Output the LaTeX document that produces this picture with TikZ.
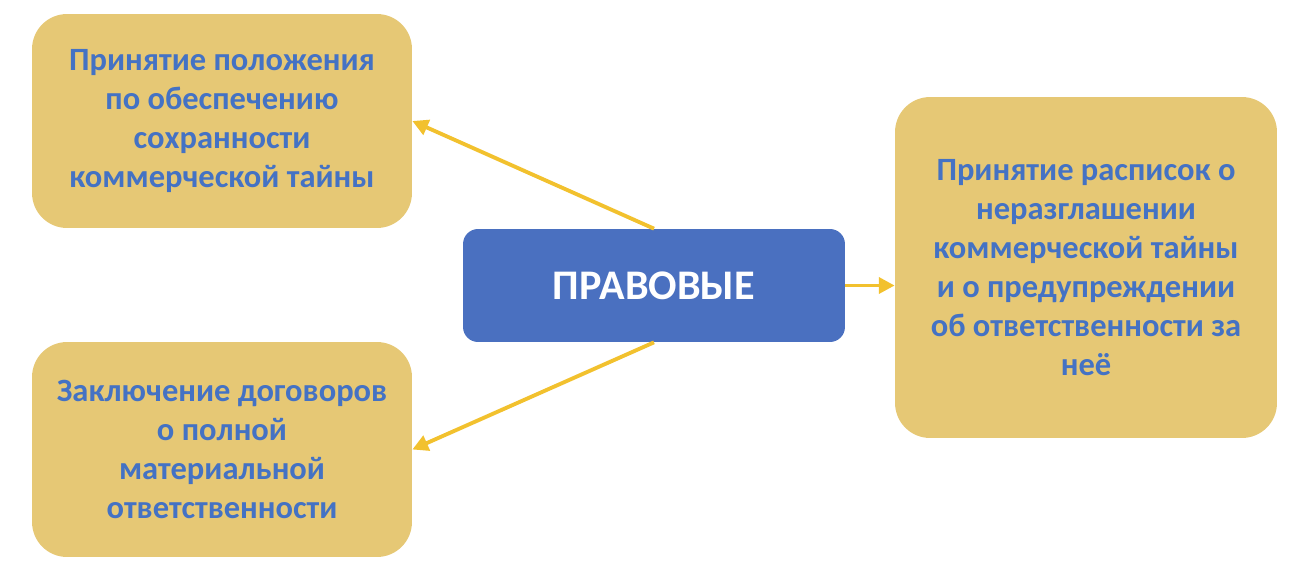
\documentclass[tikz,border=0pt]{standalone}
\usepackage{fontspec}
\setmainfont{Carlito}
\usetikzlibrary{arrows.meta}
\definecolor{gold}{HTML}{E6C875}
\definecolor{textblue}{HTML}{4472C4}
\definecolor{centerblue}{HTML}{4A70C0}
\definecolor{arrowgold}{HTML}{F2C12E}

\begin{document}
\begin{tikzpicture}[x=0.02cm, y=-0.02cm,
        measure/.style={fill=gold, rounded corners=0.7cm, align=center, text=textblue,
            font=\fontsize{18.5}{22.2}\selectfont\bfseries, inner sep=0pt},
        centre/.style={fill=centerblue, rounded corners=0.3cm, text=white,
            font=\fontsize{24}{28}\selectfont\bfseries, minimum width=7.64cm, minimum height=2.26cm},
        link/.style={arrowgold, line width=2.2pt, -{Triangle[length=9pt, width=9pt]}}]
    \useasboundingbox (0,0) rectangle (1314,572);
    \node[centre] (law) at (654,285.5) {ПРАВОВЫЕ};
    \node[measure, minimum width=7.6cm, minimum height=4.28cm] (regulation) at (222,121)
        {Принятие положения\\по обеспечению\\сохранности\\коммерческой тайны};
    \node[measure, minimum width=7.6cm, minimum height=4.3cm] (contracts) at (222,449.5)
        {Заключение договоров\\о полной\\материальной\\ответственности};
    \node[measure, minimum width=7.64cm, minimum height=6.82cm] (receipts) at (1086,267.5)
        {Принятие расписок о\\неразглашении\\коммерческой тайны\\и о предупреждении\\об ответственности за\\неё};
    \draw[link] (law.north) -- (regulation.east);
    \draw[link] (law.south) -- (contracts.east);
    \draw[link] (law.east) -- (law.east -| receipts.west);
\end{tikzpicture}
\end{document}
